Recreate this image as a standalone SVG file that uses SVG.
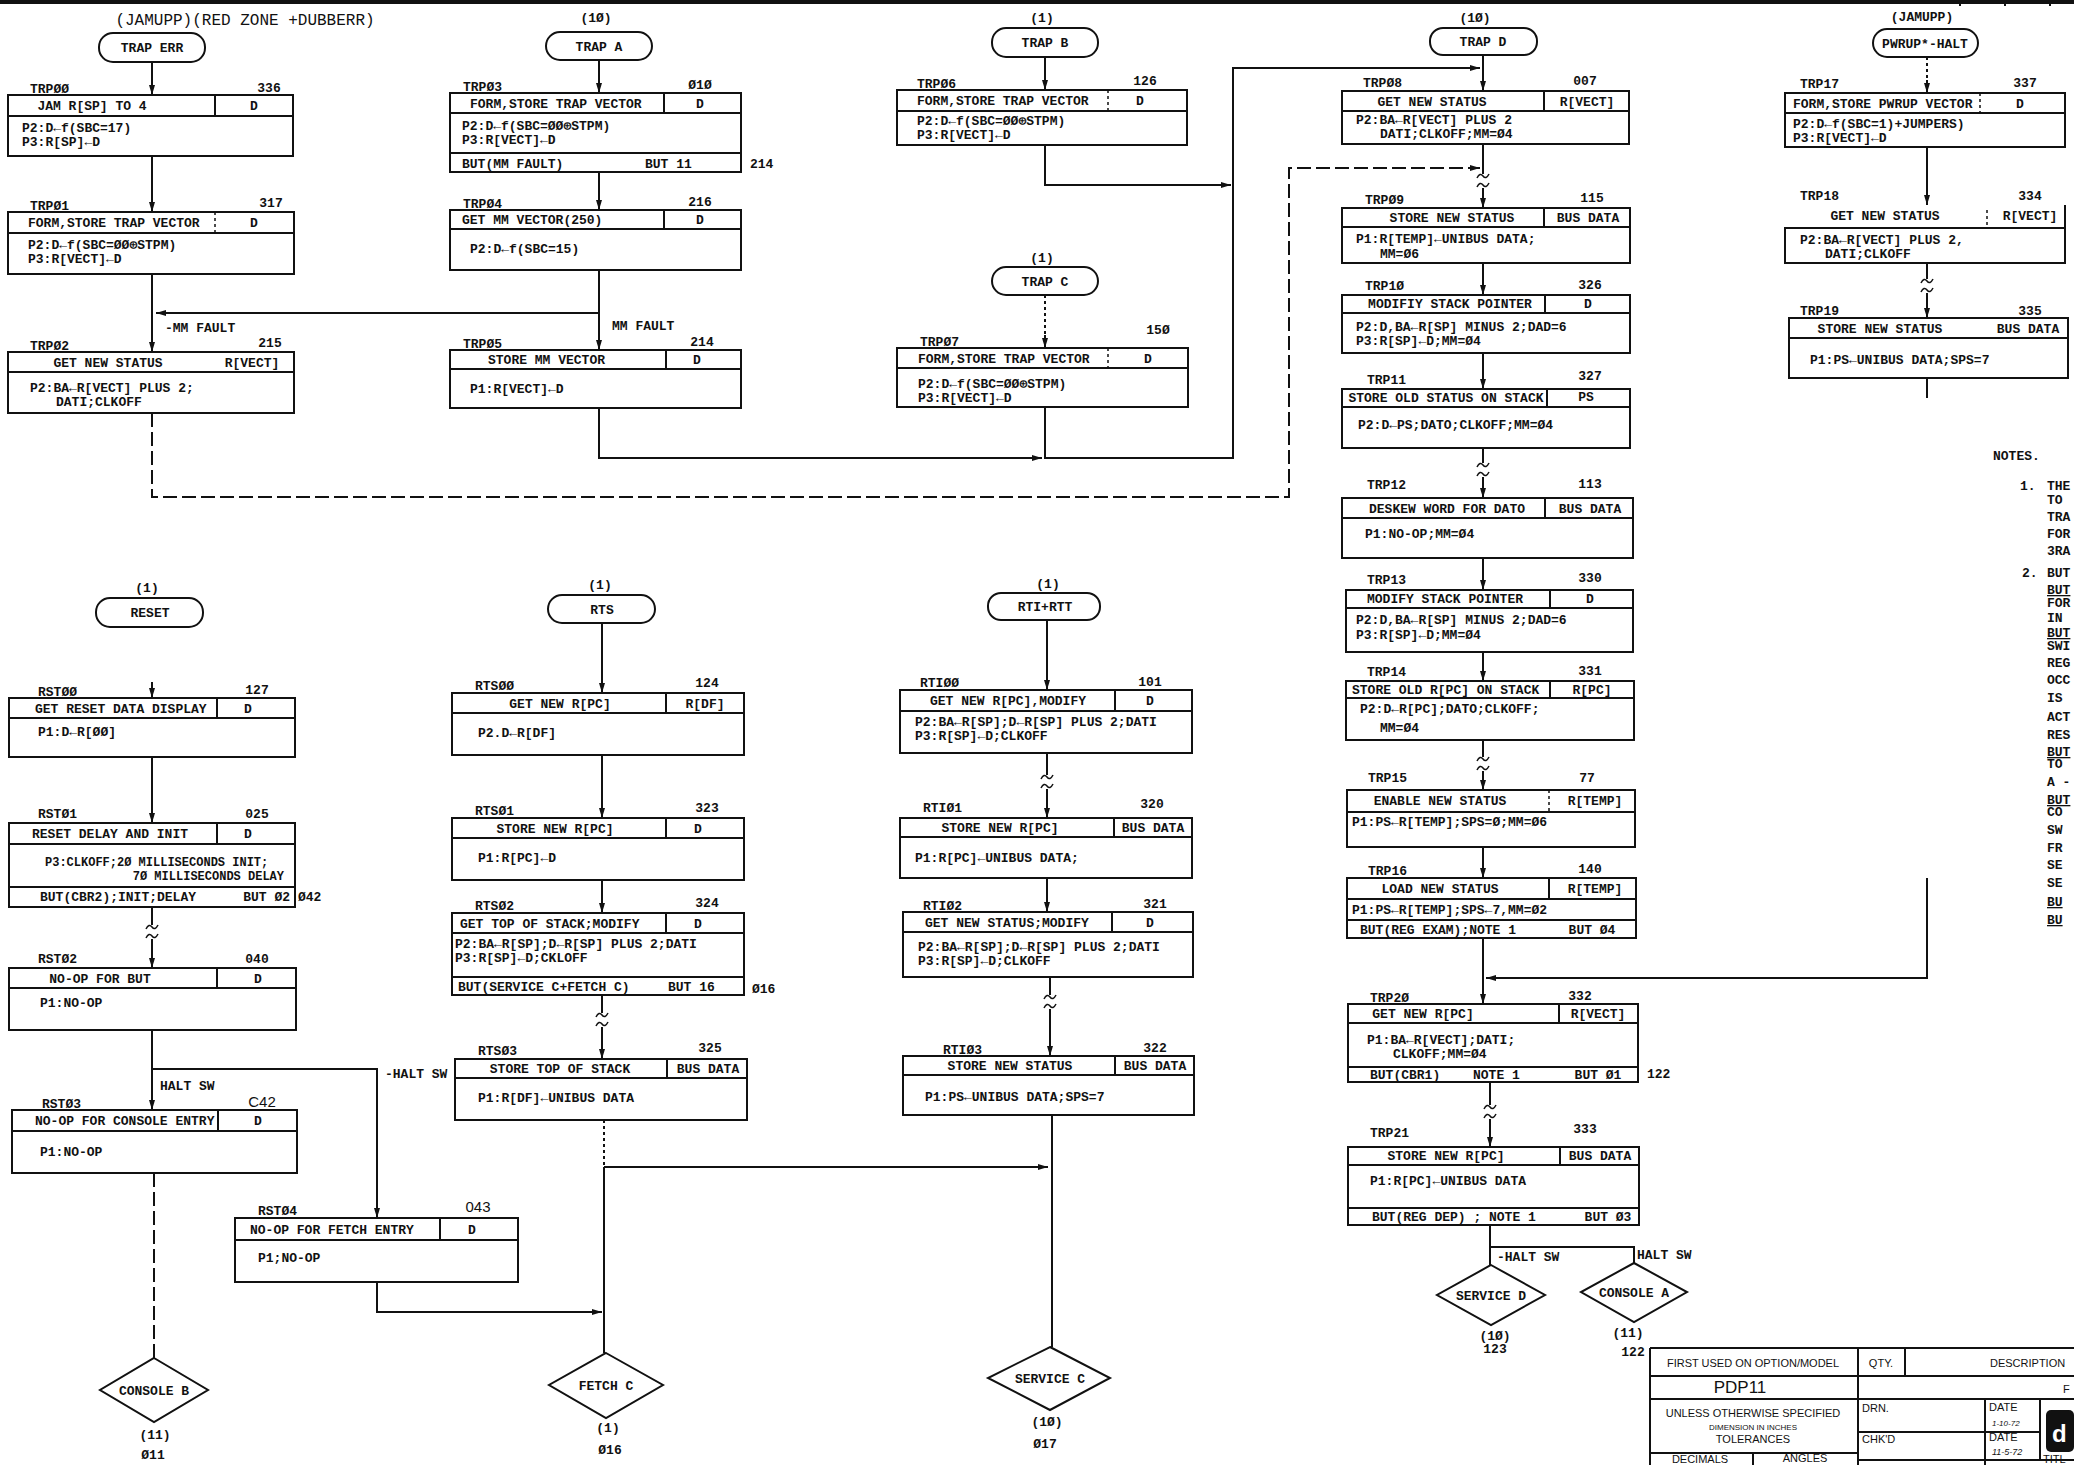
<svg xmlns="http://www.w3.org/2000/svg" width="2074" height="1465" viewBox="0 0 2074 1465">
<style>
.bx{fill:#fff;stroke:#111;stroke-width:2}
.ln{stroke:#111;stroke-width:2;fill:none}
.dl{stroke:#111;stroke-width:1.5;fill:none;stroke-dasharray:3 3}
.cn{stroke:#111;stroke-width:2;fill:none}
.ar{marker-end:url(#ah)}
.dsh{stroke-dasharray:14 5}
.dot{stroke-dasharray:3 3}
.t{font-family:"Liberation Mono",monospace;font-weight:bold;font-size:13px;fill:#111}
.s{font-size:12px}
.c{text-anchor:middle}
.e{text-anchor:end}
.n{font-family:"Liberation Sans",sans-serif;font-weight:normal;font-size:15px;fill:#111}
.tb{font-family:"Liberation Sans",sans-serif;font-size:11px;fill:#111}
.tm{stroke:#111;stroke-width:2;fill:#fff}
</style>
<defs>
<marker id="ah" viewBox="0 0 10 6" refX="10" refY="3" markerWidth="10" markerHeight="6" markerUnits="userSpaceOnUse" orient="auto"><path d="M0,0 L10,3 L0,6 z" fill="#111"/></marker>
<g id="brk"><rect x="-7" y="-7" width="14" height="14" fill="#fff"/><path d="M-6,-3 q3,-6 6,-2 t6,-2 M-6,6 q3,-6 6,-2 t6,-2" stroke="#111" stroke-width="1.5" fill="none"/></g>
</defs>
<rect width="2074" height="1465" fill="#fff"/>
<line x1="0" y1="2" x2="2074" y2="2" stroke="#111" stroke-width="4"/>
<path d="M1960,0 V6 M2005,0 V6 M2050,0 V6" class="ln"/>

<g id="connectors">
<path class="cn ar" d="M152,62 V95"/>
<path class="cn ar" d="M152,156 V212"/>
<path class="cn ar" d="M152,274 V352"/>
<path class="cn ar" d="M599,313 H156"/>
<path class="cn ar dsh" d="M152,413 V497 H1289 V168 H1480"/>
<path class="cn ar" d="M599,60 V93"/>
<path class="cn ar" d="M599,172 V210"/>
<path class="cn ar" d="M599,270 V350"/>
<path class="cn ar" d="M599,408 V458 H1042"/>
<path class="cn ar" d="M1045,57 V90"/>
<path class="cn ar" d="M1045,145 V185 H1231"/>
<path class="cn dot" d="M1045,295 V335"/>
<path class="cn ar" d="M1045,335 V348"/>
<path class="cn ar" d="M1045,407 V458 H1233 V68 H1480"/>
<path class="cn ar" d="M1483,55 V91"/>
<path class="cn ar" d="M1483,144 V208"/>
<path class="cn ar" d="M1483,263 V295"/>
<path class="cn ar" d="M1483,353 V389"/>
<path class="cn ar" d="M1483,448 V498"/>
<path class="cn ar" d="M1483,558 V590"/>
<path class="cn ar" d="M1483,652 V681"/>
<path class="cn ar" d="M1483,740 V790"/>
<path class="cn ar" d="M1483,847 V878"/>
<path class="cn ar" d="M1483,938 V1004"/>
<path class="cn ar" d="M1927,878 V978 H1486"/>
<path class="cn ar" d="M1490,1082 V1147"/>
<path class="cn" d="M1490,1225 V1265"/>
<path class="cn" d="M1490,1247 H1634 V1263"/>
<path class="cn dot" d="M1927,57 V80"/>
<path class="cn ar" d="M1927,80 V93"/>
<path class="cn ar" d="M1927,147 V205"/>
<path class="cn ar" d="M1927,263 V318"/>
<path class="cn" d="M1927,378 V398"/>
<path class="cn ar" d="M152,682 V698"/>
<path class="cn ar" d="M152,757 V823"/>
<path class="cn ar" d="M152,907 V968"/>
<path class="cn ar" d="M152,1030 V1110"/>
<path class="cn ar" d="M152,1069 H377 V1218"/>
<path class="cn dsh" d="M154,1173 V1358"/>
<path class="cn ar" d="M377,1282 V1312 H602"/>
<path class="cn ar" d="M602,623 V693"/>
<path class="cn ar" d="M602,755 V818"/>
<path class="cn ar" d="M602,880 V913"/>
<path class="cn ar" d="M602,995 V1059"/>
<path class="cn dot" d="M604,1120 V1167"/>
<path class="cn" d="M604,1167 V1353"/>
<path class="cn ar" d="M604,1167 H1048"/>
<path class="cn ar" d="M1047,619 V690"/>
<path class="cn ar" d="M1047,753 V818"/>
<path class="cn ar" d="M1047,878 V912"/>
<path class="cn ar" d="M1050,977 V1056"/>
<path class="cn" d="M1052,1115 V1347"/>
<use href="#brk" x="1483" y="181"/>
<use href="#brk" x="1483" y="470"/>
<use href="#brk" x="1483" y="764"/>
<use href="#brk" x="1490" y="1112"/>
<use href="#brk" x="1927" y="286"/>
<use href="#brk" x="152" y="932"/>
<use href="#brk" x="602" y="1020"/>
<use href="#brk" x="1047" y="782"/>
<use href="#brk" x="1050" y="1002"/>
<text class="t" x="165" y="332">-MM FAULT</text>
<text class="t" x="612" y="330">MM FAULT</text>
<text class="t" x="160" y="1090">HALT SW</text>
<text class="t" x="385" y="1078">-HALT SW</text>
<text class="t" x="1497" y="1261">-HALT SW</text>
<text class="t" x="1637" y="1259">HALT SW</text>
</g>

<!-- terminals -->
<g id="t-traperr"><text class="n c" x="245" y="25" style="font-family:'Liberation Mono',monospace;font-size:16px">(JAMUPP)(RED ZONE +DUBBERR)</text><rect class="tm" x="99" y="33" width="106" height="29" rx="14"/><text class="t c" x="152" y="52">TRAP ERR</text></g>
<g id="t-trapa"><text class="t c" x="596" y="22">(1Ø)</text><rect class="tm" x="546" y="32" width="106" height="28" rx="14"/><text class="t c" x="599" y="51">TRAP A</text></g>
<g id="t-trapb"><text class="t c" x="1042" y="22">(1)</text><rect class="tm" x="992" y="28" width="106" height="29" rx="14"/><text class="t c" x="1045" y="47">TRAP B</text></g>
<g id="t-trapc"><text class="t c" x="1042" y="262">(1)</text><rect class="tm" x="992" y="267" width="106" height="28" rx="14"/><text class="t c" x="1045" y="286">TRAP C</text></g>
<g id="t-trapd"><text class="t c" x="1475" y="22">(1Ø)</text><rect class="tm" x="1430" y="28" width="107" height="27" rx="13"/><text class="t c" x="1483" y="46">TRAP D</text></g>
<g id="t-pwrup"><text class="t c" x="1922" y="21">(JAMUPP)</text><rect class="tm" x="1873" y="29" width="105" height="28" rx="14"/><text class="t c" x="1925" y="48">PWRUP*-HALT</text></g>
<g id="t-reset"><text class="t c" x="147" y="592">(1)</text><rect class="tm" x="96" y="598" width="107" height="29" rx="14"/><text class="t c" x="150" y="617">RESET</text></g>
<g id="t-rts"><text class="t c" x="600" y="589">(1)</text><rect class="tm" x="548" y="595" width="107" height="28" rx="14"/><text class="t c" x="602" y="614">RTS</text></g>
<g id="t-rti"><text class="t c" x="1048" y="588">(1)</text><rect class="tm" x="988" y="593" width="112" height="27" rx="13"/><text class="t c" x="1045" y="611">RTI+RTT</text></g>

<!-- TRAP ERR column -->
<g id="n-trp00"><rect class="bx" x="8" y="95" width="285" height="61"/><path class="ln" d="M8,116 H293 M215,95 V116"/>
<text class="t" x="30" y="93">TRPØØ</text><text class="t c" x="269" y="92">336</text>
<text class="t c" x="92" y="110">JAM R[SP] TO 4</text><text class="t c" x="254" y="110">D</text>
<text class="t" x="22" y="132">P2:D←f(SBC=17)</text><text class="t" x="22" y="146">P3:R[SP]←D</text></g>
<g id="n-trp01"><rect class="bx" x="8" y="212" width="286" height="62"/><path class="ln" d="M8,233 H294"/><path class="dl" d="M215,212 V233"/>
<text class="t" x="30" y="210">TRPØ1</text><text class="t c" x="271" y="207">317</text>
<text class="t" x="28" y="227">FORM,STORE TRAP VECTOR</text><text class="t c" x="254" y="227">D</text>
<text class="t" x="28" y="249">P2:D←f(SBC=ØØ⊕STPM)</text><text class="t" x="28" y="263">P3:R[VECT]←D</text></g>
<g id="n-trp02"><rect class="bx" x="8" y="352" width="286" height="61"/><path class="ln" d="M8,372 H294"/>
<text class="t" x="30" y="350">TRPØ2</text><text class="t c" x="270" y="347">215</text>
<text class="t c" x="108" y="367">GET NEW STATUS</text><text class="t c" x="252" y="367">R[VECT]</text>
<text class="t" x="30" y="392">P2:BA←R[VECT] PLUS 2;</text><text class="t" x="56" y="406">DATI;CLKOFF</text></g>

<!-- TRAP A column -->
<g id="n-trp03"><rect class="bx" x="450" y="93" width="291" height="79"/><path class="ln" d="M450,113 H741 M664,93 V113 M450,153 H741"/>
<text class="t" x="463" y="91">TRPØ3</text><text class="t c" x="700" y="89">Ø1Ø</text>
<text class="t" x="470" y="108">FORM,STORE TRAP VECTOR</text><text class="t c" x="700" y="108">D</text>
<text class="t" x="462" y="130">P2:D←f(SBC=ØØ⊕STPM)</text><text class="t" x="462" y="144">P3:R[VECT]←D</text>
<text class="t" x="462" y="168">BUT(MM FAULT)</text><text class="t" x="645" y="168">BUT 11</text><text class="t" x="750" y="168">214</text></g>
<g id="n-trp04"><rect class="bx" x="450" y="210" width="291" height="60"/><path class="ln" d="M450,229 H741 M664,210 V229"/>
<text class="t" x="463" y="208">TRPØ4</text><text class="t c" x="700" y="206">216</text>
<text class="t" x="462" y="224">GET MM VECTOR(250)</text><text class="t c" x="700" y="224">D</text>
<text class="t" x="470" y="253">P2:D←f(SBC=15)</text></g>
<g id="n-trp05"><rect class="bx" x="450" y="350" width="291" height="58"/><path class="ln" d="M450,369 H741 M666,350 V369"/>
<text class="t" x="463" y="348">TRPØ5</text><text class="t c" x="702" y="346">214</text>
<text class="t" x="488" y="364">STORE MM VECTOR</text><text class="t c" x="697" y="364">D</text>
<text class="t" x="470" y="393">P1:R[VECT]←D</text></g>

<!-- TRAP B / C -->
<g id="n-trp06"><rect class="bx" x="897" y="90" width="290" height="55"/><path class="ln" d="M897,111 H1187"/><path class="dl" d="M1108,90 V111"/>
<text class="t" x="917" y="88">TRPØ6</text><text class="t c" x="1145" y="85">126</text>
<text class="t" x="917" y="105">FORM,STORE TRAP VECTOR</text><text class="t c" x="1140" y="105">D</text>
<text class="t" x="917" y="125">P2:D←f(SBC=ØØ⊕STPM)</text><text class="t" x="917" y="139">P3:R[VECT]←D</text></g>
<g id="n-trp07"><rect class="bx" x="897" y="348" width="291" height="59"/><path class="ln" d="M897,368 H1188"/><path class="dl" d="M1108,348 V368"/>
<text class="t" x="920" y="346">TRPØ7</text><text class="t c" x="1158" y="334">15Ø</text>
<text class="t" x="918" y="363">FORM,STORE TRAP VECTOR</text><text class="t c" x="1148" y="363">D</text>
<text class="t" x="918" y="388">P2:D←f(SBC=ØØ⊕STPM)</text><text class="t" x="918" y="402">P3:R[VECT]←D</text></g>

<!-- TRAP D column -->
<g id="n-trp08"><rect class="bx" x="1342" y="91" width="287" height="53"/><path class="ln" d="M1342,111 H1629 M1544,91 V111"/>
<text class="t" x="1363" y="87">TRPØ8</text><text class="t c" x="1585" y="85">007</text>
<text class="t c" x="1432" y="106">GET NEW STATUS</text><text class="t c" x="1587" y="106">R[VECT]</text>
<text class="t" x="1356" y="124">P2:BA←R[VECT] PLUS 2</text><text class="t" x="1380" y="138">DATI;CLKOFF;MM=Ø4</text></g>
<g id="n-trp09"><rect class="bx" x="1342" y="208" width="288" height="55"/><path class="ln" d="M1342,227 H1630 M1544,208 V227"/>
<text class="t" x="1365" y="204">TRPØ9</text><text class="t c" x="1592" y="202">115</text>
<text class="t c" x="1452" y="222">STORE NEW STATUS</text><text class="t c" x="1588" y="222">BUS DATA</text>
<text class="t" x="1356" y="243">P1:R[TEMP]←UNIBUS DATA;</text><text class="t" x="1380" y="258">MM=Ø6</text></g>
<g id="n-trp10"><rect class="bx" x="1342" y="295" width="288" height="58"/><path class="ln" d="M1342,313 H1630 M1545,295 V313"/>
<text class="t" x="1365" y="290">TRP1Ø</text><text class="t c" x="1590" y="289">326</text>
<text class="t c" x="1450" y="308">MODIFIY STACK POINTER</text><text class="t c" x="1588" y="308">D</text>
<text class="t" x="1356" y="331">P2:D,BA←R[SP] MINUS 2;DAD=6</text><text class="t" x="1356" y="345">P3:R[SP]←D;MM=Ø4</text></g>
<g id="n-trp11"><rect class="bx" x="1342" y="389" width="288" height="59"/><path class="ln" d="M1342,407 H1630 M1547,389 V407"/>
<text class="t" x="1367" y="384">TRP11</text><text class="t c" x="1590" y="380">327</text>
<text class="t c" x="1446" y="402">STORE OLD STATUS ON STACK</text><text class="t c" x="1586" y="401">PS</text>
<text class="t" x="1358" y="429">P2:D←PS;DATO;CLKOFF;MM=Ø4</text></g>
<g id="n-trp12"><rect class="bx" x="1342" y="498" width="291" height="60"/><path class="ln" d="M1342,518 H1633 M1545,498 V518"/>
<text class="t" x="1367" y="489">TRP12</text><text class="t c" x="1590" y="488">113</text>
<text class="t c" x="1447" y="513">DESKEW WORD FOR DATO</text><text class="t c" x="1590" y="513">BUS DATA</text>
<text class="t" x="1365" y="538">P1:NO-OP;MM=Ø4</text></g>
<g id="n-trp13"><rect class="bx" x="1346" y="590" width="287" height="62"/><path class="ln" d="M1346,608 H1633 M1550,590 V608"/>
<text class="t" x="1367" y="584">TRP13</text><text class="t c" x="1590" y="582">330</text>
<text class="t c" x="1445" y="603">MODIFY STACK POINTER</text><text class="t c" x="1590" y="603">D</text>
<text class="t" x="1356" y="624">P2:D,BA←R[SP] MINUS 2;DAD=6</text><text class="t" x="1356" y="639">P3:R[SP]←D;MM=Ø4</text></g>
<g id="n-trp14"><rect class="bx" x="1346" y="681" width="288" height="59"/><path class="ln" d="M1346,698 H1634 M1550,681 V698"/>
<text class="t" x="1367" y="676">TRP14</text><text class="t c" x="1590" y="675">331</text>
<text class="t" x="1352" y="694">STORE OLD R[PC] ON STACK</text><text class="t c" x="1592" y="694">R[PC]</text>
<text class="t" x="1360" y="713">P2:D←R[PC];DATO;CLKOFF;</text><text class="t" x="1380" y="732">MM=Ø4</text></g>
<g id="n-trp15"><rect class="bx" x="1347" y="790" width="288" height="57"/><path class="ln" d="M1347,812 H1635"/><path class="dl" d="M1549,790 V812"/>
<text class="t" x="1368" y="782">TRP15</text><text class="t c" x="1587" y="782">77</text>
<text class="t c" x="1440" y="805">ENABLE NEW STATUS</text><text class="t c" x="1595" y="805">R[TEMP]</text>
<text class="t" x="1352" y="826">P1:PS←R[TEMP];SPS=Ø;MM=Ø6</text></g>
<g id="n-trp16"><rect class="bx" x="1347" y="878" width="289" height="60"/><path class="ln" d="M1347,899 H1636 M1347,920 H1636 M1549,878 V899"/>
<text class="t" x="1368" y="875">TRP16</text><text class="t c" x="1590" y="873">140</text>
<text class="t c" x="1440" y="893">LOAD NEW STATUS</text><text class="t c" x="1595" y="893">R[TEMP]</text>
<text class="t" x="1352" y="914">P1:PS←R[TEMP];SPS←7,MM=Ø2</text>
<text class="t" x="1360" y="934">BUT(REG EXAM);NOTE 1</text><text class="t c" x="1592" y="934">BUT Ø4</text></g>
<g id="n-trp20"><rect class="bx" x="1348" y="1004" width="290" height="78"/><path class="ln" d="M1348,1023 H1638 M1348,1067 H1638 M1559,1004 V1023"/>
<text class="t" x="1370" y="1002">TRP2Ø</text><text class="t c" x="1580" y="1000">332</text>
<text class="t c" x="1423" y="1018">GET NEW R[PC]</text><text class="t c" x="1598" y="1018">R[VECT]</text>
<text class="t" x="1367" y="1044">P1:BA←R[VECT];DATI;</text><text class="t" x="1393" y="1058">CLKOFF;MM=Ø4</text>
<text class="t" x="1370" y="1079">BUT(CBR1)</text><text class="t" x="1473" y="1079">NOTE 1</text><text class="t c" x="1598" y="1079">BUT Ø1</text>
<text class="t" x="1647" y="1078">122</text></g>
<g id="n-trp21"><rect class="bx" x="1348" y="1147" width="291" height="78"/><path class="ln" d="M1348,1165 H1639 M1348,1208 H1639 M1560,1147 V1165"/>
<text class="t" x="1370" y="1137">TRP21</text><text class="t c" x="1585" y="1133">333</text>
<text class="t c" x="1446" y="1160">STORE NEW R[PC]</text><text class="t c" x="1600" y="1160">BUS DATA</text>
<text class="t" x="1370" y="1185">P1:R[PC]←UNIBUS DATA</text>
<text class="t" x="1372" y="1221">BUT(REG DEP) ; NOTE 1</text><text class="t c" x="1608" y="1221">BUT Ø3</text></g>

<!-- PWRUP column -->
<g id="n-trp17"><rect class="bx" x="1785" y="93" width="280" height="54"/><path class="ln" d="M1785,113 H2065"/><path class="dl" d="M1980,93 V113"/>
<text class="t" x="1800" y="88">TRP17</text><text class="t c" x="2025" y="87">337</text>
<text class="t" x="1793" y="108">FORM,STORE PWRUP VECTOR</text><text class="t c" x="2020" y="108">D</text>
<text class="t" x="1793" y="128">P2:D←f(SBC=1)+JUMPERS)</text><text class="t" x="1793" y="142">P3:R[VECT]←D</text></g>
<g id="n-trp18"><path class="bx" d="M2065,205 V263 H1785 V228 H2065"/><path class="dl" d="M1987,210 V228"/>
<text class="t" x="1800" y="200">TRP18</text><text class="t c" x="2030" y="200">334</text>
<text class="t c" x="1885" y="220">GET NEW STATUS</text><text class="t c" x="2030" y="220">R[VECT]</text>
<text class="t" x="1800" y="244">P2:BA←R[VECT] PLUS 2,</text><text class="t" x="1825" y="258">DATI;CLKOFF</text></g>
<g id="n-trp19"><rect class="bx" x="1789" y="318" width="279" height="60"/><path class="ln" d="M1789,338 H2068"/>
<text class="t" x="1800" y="315">TRP19</text><text class="t c" x="2030" y="315">335</text>
<text class="t c" x="1880" y="333">STORE NEW STATUS</text><text class="t c" x="2028" y="333">BUS DATA</text>
<text class="t" x="1810" y="364">P1:PS←UNIBUS DATA;SPS=7</text></g>

<!-- RESET column -->
<g id="n-rst00"><rect class="bx" x="9" y="698" width="286" height="59"/><path class="ln" d="M9,718 H295 M217,698 V718"/>
<text class="t" x="38" y="696">RSTØØ</text><text class="t c" x="257" y="694">127</text>
<text class="t" x="35" y="713">GET RESET DATA DISPLAY</text><text class="t c" x="248" y="713">D</text>
<text class="t" x="38" y="736">P1:D←R[ØØ]</text></g>
<g id="n-rst01"><rect class="bx" x="9" y="823" width="286" height="84"/><path class="ln" d="M9,844 H295 M9,887 H295 M217,823 V844"/>
<text class="t" x="38" y="818">RSTØ1</text><text class="t c" x="257" y="818">025</text>
<text class="t" x="32" y="838">RESET DELAY AND INIT</text><text class="t c" x="248" y="838">D</text>
<text class="t s" x="45" y="866">P3:CLKOFF;2Ø MILLISECONDS INIT;</text><text class="t s e" x="284" y="880">7Ø MILLISECONDS DELAY</text>
<text class="t" x="40" y="901">BUT(CBR2);INIT;DELAY</text><text class="t e" x="290" y="901">BUT Ø2</text><text class="t" x="298" y="901">Ø42</text></g>
<g id="n-rst02"><rect class="bx" x="9" y="968" width="287" height="62"/><path class="ln" d="M9,988 H296 M217,968 V988"/>
<text class="t" x="38" y="963">RSTØ2</text><text class="t c" x="257" y="963">040</text>
<text class="t c" x="100" y="983">NO-OP FOR BUT</text><text class="t c" x="258" y="983">D</text>
<text class="t" x="40" y="1007">P1:NO-OP</text></g>
<g id="n-rst03"><rect class="bx" x="12" y="1110" width="285" height="63"/><path class="ln" d="M12,1131 H297 M218,1110 V1131"/>
<text class="t" x="42" y="1108">RSTØ3</text><text class="n c" x="262" y="1107">C42</text>
<text class="t" x="35" y="1125">NO-OP FOR CONSOLE ENTRY</text><text class="t c" x="258" y="1125">D</text>
<text class="t" x="40" y="1156">P1:NO-OP</text></g>
<g id="n-rst04"><rect class="bx" x="235" y="1218" width="283" height="64"/><path class="ln" d="M235,1240 H518 M440,1218 V1240"/>
<text class="t" x="258" y="1215">RSTØ4</text><text class="n c" x="478" y="1212">043</text>
<text class="t" x="250" y="1234">NO-OP FOR FETCH ENTRY</text><text class="t c" x="472" y="1234">D</text>
<text class="t" x="258" y="1262">P1;NO-OP</text></g>

<!-- RTS column -->
<g id="n-rts00"><rect class="bx" x="452" y="693" width="292" height="62"/><path class="ln" d="M452,713 H744 M666,693 V713"/>
<text class="t" x="475" y="690">RTSØØ</text><text class="t c" x="707" y="687">124</text>
<text class="t c" x="560" y="708">GET NEW R[PC]</text><text class="t c" x="705" y="708">R[DF]</text>
<text class="t" x="478" y="737">P2.D←R[DF]</text></g>
<g id="n-rts01"><rect class="bx" x="452" y="818" width="292" height="62"/><path class="ln" d="M452,838 H744 M666,818 V838"/>
<text class="t" x="475" y="815">RTSØ1</text><text class="t c" x="707" y="812">323</text>
<text class="t c" x="555" y="833">STORE NEW R[PC]</text><text class="t c" x="698" y="833">D</text>
<text class="t" x="478" y="862">P1:R[PC]←D</text></g>
<g id="n-rts02"><rect class="bx" x="452" y="913" width="292" height="82"/><path class="ln" d="M452,933 H744 M452,977 H744 M666,913 V933"/>
<text class="t" x="475" y="910">RTSØ2</text><text class="t c" x="707" y="907">324</text>
<text class="t" x="460" y="928">GET TOP OF STACK;MODIFY</text><text class="t c" x="698" y="928">D</text>
<text class="t" x="455" y="948">P2:BA←R[SP];D←R[SP] PLUS 2;DATI</text><text class="t" x="455" y="962">P3:R[SP]←D;CKLOFF</text>
<text class="t" x="458" y="991">BUT(SERVICE C+FETCH C)</text><text class="t" x="668" y="991">BUT 16</text><text class="t" x="752" y="993">Ø16</text></g>
<g id="n-rts03"><rect class="bx" x="455" y="1059" width="292" height="61"/><path class="ln" d="M455,1078 H747 M667,1059 V1078"/>
<text class="t" x="478" y="1055">RTSØ3</text><text class="t c" x="710" y="1052">325</text>
<text class="t c" x="560" y="1073">STORE TOP OF STACK</text><text class="t c" x="708" y="1073">BUS DATA</text>
<text class="t" x="478" y="1102">P1:R[DF]←UNIBUS DATA</text></g>

<!-- RTI column -->
<g id="n-rti00"><rect class="bx" x="900" y="690" width="292" height="63"/><path class="ln" d="M900,711 H1192 M1115,690 V711"/>
<text class="t" x="920" y="687">RTIØØ</text><text class="t c" x="1150" y="686">101</text>
<text class="t" x="930" y="705">GET NEW R[PC],MODIFY</text><text class="t c" x="1150" y="705">D</text>
<text class="t" x="915" y="726">P2:BA←R[SP];D←R[SP] PLUS 2;DATI</text><text class="t" x="915" y="740">P3:R[SP]←D;CLKOFF</text></g>
<g id="n-rti01"><rect class="bx" x="900" y="818" width="292" height="60"/><path class="ln" d="M900,837 H1192 M1114,818 V837"/>
<text class="t" x="923" y="812">RTIØ1</text><text class="t c" x="1152" y="808">320</text>
<text class="t c" x="1000" y="832">STORE NEW R[PC]</text><text class="t c" x="1153" y="832">BUS DATA</text>
<text class="t" x="915" y="862">P1:R[PC]←UNIBUS DATA;</text></g>
<g id="n-rti02"><rect class="bx" x="903" y="912" width="290" height="65"/><path class="ln" d="M903,932 H1193 M1112,912 V932"/>
<text class="t" x="923" y="910">RTIØ2</text><text class="t c" x="1155" y="908">321</text>
<text class="t" x="925" y="927">GET NEW STATUS;MODIFY</text><text class="t c" x="1150" y="927">D</text>
<text class="t" x="918" y="951">P2:BA←R[SP];D←R[SP] PLUS 2;DATI</text><text class="t" x="918" y="965">P3:R[SP]←D;CLKOFF</text></g>
<g id="n-rti03"><rect class="bx" x="903" y="1056" width="291" height="59"/><path class="ln" d="M903,1075 H1194 M1115,1056 V1075"/>
<text class="t" x="943" y="1054">RTIØ3</text><text class="t c" x="1155" y="1052">322</text>
<text class="t c" x="1010" y="1070">STORE NEW STATUS</text><text class="t c" x="1155" y="1070">BUS DATA</text>
<text class="t" x="925" y="1101">P1:PS←UNIBUS DATA;SPS=7</text></g>

<!-- exits -->
<g id="x-consoleb"><path class="tm" d="M154,1358 L208,1390 L154,1422 L100,1390 Z"/><text class="t c" x="154" y="1395">CONSOLE B</text><text class="t c" x="155" y="1439">(11)</text><text class="t c" x="153" y="1459">Ø11</text></g>
<g id="x-fetchc"><path class="tm" d="M606,1353 L663,1385 L606,1418 L549,1385 Z"/><text class="t c" x="606" y="1390">FETCH C</text><text class="t c" x="608" y="1432">(1)</text><text class="t c" x="610" y="1454">Ø16</text></g>
<g id="x-servicec"><path class="tm" d="M1050,1347 L1110,1378 L1050,1410 L988,1378 Z"/><text class="t c" x="1050" y="1383">SERVICE C</text><text class="t c" x="1047" y="1426">(1Ø)</text><text class="t c" x="1045" y="1448">Ø17</text></g>
<g id="x-serviced"><path class="tm" d="M1491,1265 L1545,1295 L1491,1325 L1437,1295 Z"/><text class="t c" x="1491" y="1300">SERVICE D</text><text class="t c" x="1495" y="1340">(1Ø)</text><text class="t c" x="1495" y="1353">123</text></g>
<g id="x-consolea"><path class="tm" d="M1634,1263 L1687,1292 L1634,1322 L1581,1292 Z"/><text class="t c" x="1634" y="1297">CONSOLE A</text><text class="t c" x="1628" y="1337">(11)</text><text class="t c" x="1633" y="1356">122</text></g>

<!-- notes -->
<g id="notes">
<text class="t" x="1993" y="460">NOTES.</text>
<text class="t" x="2020" y="490">1.</text>
<text class="t" x="2047" y="490">THE</text>
<text class="t" x="2047" y="504">TO</text>
<text class="t" x="2047" y="521">TRA</text>
<text class="t" x="2047" y="538">FOR</text>
<text class="t" x="2047" y="555">3RA</text>
<text class="t" x="2022" y="577">2.</text>
<text class="t" x="2047" y="577">BUT</text>
<text class="t" x="2047" y="594" text-decoration="underline">BUT</text>
<text class="t" x="2047" y="607">FOR</text>
<text class="t" x="2047" y="622">IN</text>
<text class="t" x="2047" y="637" text-decoration="underline">BUT</text>
<text class="t" x="2047" y="650">SWI</text>
<text class="t" x="2047" y="667">REG</text>
<text class="t" x="2047" y="684">OCC</text>
<text class="t" x="2047" y="702">IS</text>
<text class="t" x="2047" y="721">ACT</text>
<text class="t" x="2047" y="739">RES</text>
<text class="t" x="2047" y="756" text-decoration="underline">BUT</text>
<text class="t" x="2047" y="768">TO</text>
<text class="t" x="2047" y="786">A -</text>
<text class="t" x="2047" y="804" text-decoration="underline">BUT</text>
<text class="t" x="2047" y="816">CO</text>
<text class="t" x="2047" y="834">SW</text>
<text class="t" x="2047" y="852">FR</text>
<text class="t" x="2047" y="869">SE</text>
<text class="t" x="2047" y="887">SE</text>
<text class="t" x="2047" y="906" text-decoration="underline">BU</text>
<text class="t" x="2047" y="924" text-decoration="underline">BU</text>
</g>

<!-- title block -->
<g id="titleblock">
<path class="ln" d="M1650,1348 H2074 M1650,1348 V1465 M1858,1348 V1465 M1905,1348 V1376 M1650,1376 H2074 M1650,1399 H2074 M1985,1399 V1465 M2040,1399 V1460 M1858,1432 H2040 M1858,1460 H2074 M1650,1453 H1858 M1753,1453 V1465"/>
<text class="tb c" x="1753" y="1367">FIRST USED ON OPTION/MODEL</text>
<text class="tb c" x="1881" y="1367">QTY.</text>
<text class="tb" x="1990" y="1367">DESCRIPTION</text>
<text class="tb c" x="1740" y="1393" style="font-size:17px">PDP11</text>
<text class="tb" x="2063" y="1393">F</text>
<text class="tb c" x="1753" y="1417">UNLESS OTHERWISE SPECIFIED</text>
<text class="tb c" x="1753" y="1430" style="font-size:8px">DIMENSION IN INCHES</text>
<text class="tb c" x="1753" y="1443">TOLERANCES</text>
<text class="tb" x="1862" y="1412">DRN.</text>
<text class="tb" x="1989" y="1411">DATE</text>
<text class="tb" x="1992" y="1426" style="font-size:8px;font-style:italic">1-10-72</text>
<text class="tb" x="1862" y="1443">CHK'D</text>
<text class="tb" x="1989" y="1441">DATE</text>
<text class="tb" x="1992" y="1455" style="font-size:9px;font-style:italic">11-5-72</text>
<rect x="2046" y="1410" width="28" height="42" rx="5" fill="#111"/>
<text class="tb" x="2052" y="1442" style="font-size:24px;font-weight:bold;fill:#fff">d</text>
<text class="tb" x="2043" y="1463">TITL</text>
<text class="tb c" x="1700" y="1463">DECIMALS</text>
<text class="tb c" x="1805" y="1462">ANGLES</text>
</g>
</svg>
